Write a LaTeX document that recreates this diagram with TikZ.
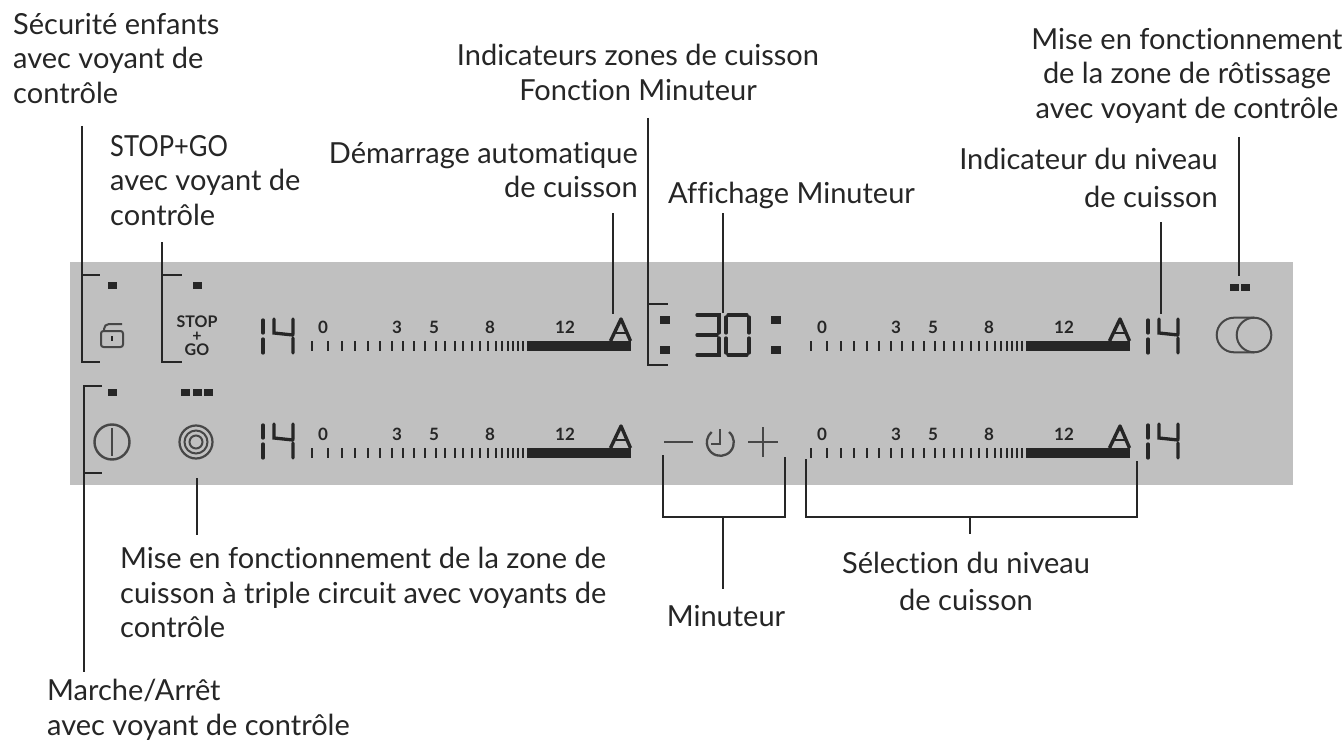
\documentclass[tikz,border=0pt]{standalone}
\usepackage{fontspec}
\usepackage{graphicx}
\setmainfont[Ligatures=NoCommon,Contextuals=NoAlternate]{Lato}
\definecolor{panel}{HTML}{C0C0C0}
\definecolor{ink}{HTML}{262626}
\tikzset{
  lbl/.style={inner sep=0pt,text=ink,font=\fontsize{29}{34.5}\selectfont},
  leader/.style={draw=ink,line width=1.5pt},
  seg/.style={draw=ink,line width=3.3pt,line cap=round},
  icon/.style={draw=ink!85,line width=2pt},
  led/.style={fill=ink,draw=none,minimum width=9pt,minimum height=7pt,inner sep=0pt},
  glyph/.style={inner sep=0pt,text=ink,font=\fontsize{17}{17}\bfseries\selectfont},
  pics/fourteen/.style={code={
    \draw[seg] (1,2)--(1,15) (1,21)--(1,35);
    \draw[seg] (12,1)--(12,15)--(31,17) (31,1)--(31,16) (31,20)--(31,35);
  }},
  pics/scale/.style={code={
    \foreach \t in {0,16,30,43,56,68,80,91,102,113,124,133,143,151,160,168,176,184,190,196,201,206,211}
      \draw[draw=ink,line width=2.5pt] (\t,-5)--(\t,5);
    \fill[ink] (215,-5) rectangle (319,5);
    \draw[draw=ink,line width=3.4pt,line join=round] (298.5,-5)--(309,-27)--(318.5,-5);
    \draw[draw=ink,line width=2.8pt] (302,-13)--(316,-13);
    \node[glyph] at (11,-19) {0};
    \node[glyph] at (85,-19) {3};
    \node[glyph] at (122,-19) {5};
    \node[glyph] at (178,-19) {8};
    \node[glyph] at (253,-19) {12};
  }}
}
\begin{document}
\begin{tikzpicture}[x=1pt,y=-1pt]
\useasboundingbox (0,0) rectangle (1343,746);
\fill[white] (0,0) rectangle (1343,746);
\fill[panel] (70,262) rectangle (1293,485);

% labels
\node[lbl,anchor=north west,align=left] (secu) at (13,13) {Sécurité enfants\\avec voyant de\\contrôle};
\node[lbl,anchor=north west,align=left] (stop) at (110,135) {\scalebox{0.88}[1]{STOP+GO}\\avec voyant de\\contrôle};
\node[lbl,anchor=north east,align=right] (demar) at (638,142) {Démarrage automatique\\de cuisson};
\node[lbl,anchor=north,align=center] (indic) at (638,44) {Indicateurs zones de cuisson\\Fonction Minuteur};
\node[lbl,anchor=west] (affi) at (668,195) {Affichage Minuteur};
\node[lbl,anchor=north,align=center] (roast) at (1187,28) {Mise en fonctionnement\\de la zone de rôtissage\\avec voyant de contrôle};
\node[lbl,anchor=north east,align=right] (niv) at (1218,148) {Indicateur du niveau\\[3pt]de cuisson};
\node[lbl,anchor=north west,align=left] (triple) at (120,547) {Mise en fonctionnement de la zone de\\cuisson à triple circuit avec voyants de\\contrôle};
\node[lbl,anchor=center] (minu) at (726,616) {Minuteur};
\node[lbl,anchor=north,align=center] (sel) at (966,552) {Sélection du niveau\\[2pt]de cuisson};
\node[lbl,anchor=north west,align=left] (marche) at (47,679) {Marche/Arrêt\\avec voyant de contrôle};

% LEDs
\node[led] (l1) at (112,285) {};
\node[led] (l2) at (197,285) {};
\node[led] (l3) at (112,392) {};
\node[led] (l4a) at (185,392) {};
\node[led] (l4b) at (197,392) {};
\node[led] (l4c) at (208.5,392) {};
\node[led] (l5a) at (1234,287) {};
\node[led] (l5b) at (1245,287) {};
\node[led,minimum width=10pt,minimum height=8pt] (c1) at (665,320) {};
\node[led,minimum width=10pt,minimum height=8pt] (c2) at (665,350) {};
\node[led,minimum width=10pt,minimum height=8pt] (c3) at (776,320) {};
\node[led,minimum width=10pt,minimum height=8pt] (c4) at (776,350) {};

% lock
\draw[icon,rounded corners=2.5pt] (101,331) rectangle (123,347);
\draw[icon,rounded corners=5pt] (104,331) -- (104,324) -- (122,324);
\fill[ink] (110.5,336) rectangle (113,341);

% STOP+GO
\node[glyph,align=center,font=\fontsize{16}{14}\bfseries\selectfont] (sg) at (197,336) {STOP\\+\\GO};

% power and triple circuit
\draw[icon,line width=2.4pt] (112,442) circle (17.5);
\draw[icon,line width=2.2pt] (112,428) -- (112,456);
\draw[icon,line width=2.2pt] (196,442) circle (16.5);
\draw[icon,line width=2pt] (196,442) circle (11.5);
\draw[icon,line width=2pt] (196,442) circle (6.5);

% digits
\pic at (262,318) {fourteen};
\pic at (262,423) {fourteen};
\pic at (1147,318) {fourteen};
\pic at (1147,423) {fourteen};

% scales
\pic at (312,346) {scale};
\pic at (312,453) {scale};
\pic at (811,346) {scale};
\pic at (811,453) {scale};

% 30
\draw[seg] (697,315)--(719,315)--(719,333) (697,335)--(717,335) (719,338)--(719,355)--(697,355);
\draw[seg] (726,317)--(726,333) (726,338)--(726,353) (728,315)--(747,315) (749,317)--(749,333) (749,338)--(749,353) (728,355)--(747,355);

% minus, timer, plus
\draw[icon,line width=2.6pt] (664,442)--(693,442);
\draw[icon,line width=2.3pt] (729,432) arc (-50:230:13.5);
\draw[icon,line width=2pt] (720,429)--(720,444)--(711,444);
\draw[icon,line width=2.6pt] (748,442)--(778,442) (763,427)--(763,457);

% roasting icon
\draw[icon] (1254,335) circle (17.3);
\draw[icon] (1254,317.7) -- (1234,317.7) arc (270:90:17.3) -- (1254,352.3);

% anchors of connectors
\coordinate (b1top) at (82,126);   \coordinate (b1a) at (82,275);   \coordinate (b1b) at (100,275);
\coordinate (b1c) at (82,362);     \coordinate (b1d) at (100,362);
\coordinate (b2top) at (162,242);  \coordinate (b2a) at (162,275);  \coordinate (b2b) at (182,275);
\coordinate (b2c) at (162,362);    \coordinate (b2d) at (182,362);
\coordinate (b3a) at (84,386);     \coordinate (b3b) at (102,386);
\coordinate (b3c) at (84,473);     \coordinate (b3d) at (102,473);  \coordinate (b3e) at (84,672);
\coordinate (b4top) at (648,118);  \coordinate (b4a) at (648,304);  \coordinate (b4b) at (668,304);
\coordinate (b4c) at (648,365);    \coordinate (b4d) at (668,365);
\coordinate (d1a) at (613,213);    \coordinate (d1b) at (613,314);
\coordinate (d2a) at (723,213);    \coordinate (d2b) at (723,313);
\coordinate (d3a) at (1161,222);   \coordinate (d3b) at (1161,314);
\coordinate (d4a) at (1239,137);   \coordinate (d4b) at (1239,276);
\coordinate (d5a) at (197,478);    \coordinate (d5b) at (197,535);
\coordinate (m1) at (663,455);     \coordinate (m2) at (663,517);   \coordinate (m3) at (785,517); \coordinate (m4) at (785,457);
\coordinate (m5) at (723,517);     \coordinate (m6) at (723,589);
\coordinate (s1) at (806,459);     \coordinate (s2) at (806,517);   \coordinate (s3) at (1137,517); \coordinate (s4) at (1137,461);
\coordinate (s5) at (970,517);     \coordinate (s6) at (970,534);

% connectors
\draw[leader] (b1top)--(b1c)--(b1d) (b1a)--(b1b);
\draw[leader] (b2top)--(b2c)--(b2d) (b2a)--(b2b);
\draw[leader] (b3b)--(b3a)--(b3e) (b3c)--(b3d);
\draw[leader] (b4top)--(b4c)--(b4d) (b4a)--(b4b);
\draw[leader] (d1a)--(d1b);
\draw[leader] (d2a)--(d2b);
\draw[leader] (d3a)--(d3b);
\draw[leader] (d4a)--(d4b);
\draw[leader] (d5a)--(d5b);
\draw[leader] (m1)--(m2)--(m3)--(m4) (m5)--(m6);
\draw[leader] (s1)--(s2)--(s3)--(s4) (s5)--(s6);
\end{tikzpicture}
\end{document}
